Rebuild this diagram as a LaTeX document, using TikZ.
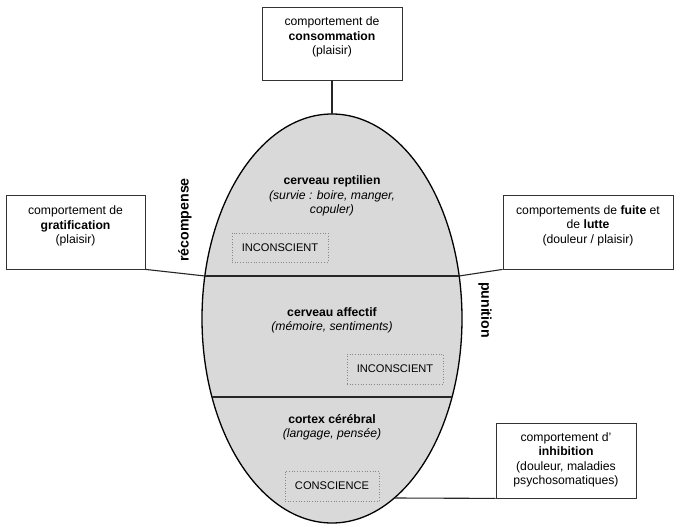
\documentclass[tikz,border=0pt]{standalone}
\usepackage{fontspec}
\setmainfont{Liberation Sans}
\definecolor{brainfill}{HTML}{D9D9D9}
\definecolor{boxline}{HTML}{333333}
\definecolor{dotline}{HTML}{888888}
\begin{document}
\begin{tikzpicture}[x=1pt,y=-1pt,
  txt/.style={font=\fontsize{12.2}{14.5}\selectfont, align=center, inner sep=0pt},
  outbox/.style={draw=boxline, line width=0.8pt, fill=white, inner sep=0pt},
  dotbox/.style={draw=dotline, dotted, line width=0.7pt, inner sep=0pt, font=\fontsize{11.1}{13}\selectfont},
  side/.style={font=\fontsize{14.2}{16}\selectfont\bfseries, inner sep=0pt},
  conn/.style={line width=1.1pt, black!85},
  divide/.style={line width=1.2pt, black!85}]
\useasboundingbox (0,0) rectangle (683,530);
% brain ellipse
\draw[fill=brainfill, line width=1.3pt] (332,318.5) ellipse [x radius=130pt, y radius=204.5pt];
% points on the ellipse
\coordinate (eTop) at (332,114);
\coordinate (dAl) at (205,276);
\coordinate (dAr) at (459,276);
\coordinate (dBl) at (212,397);
\coordinate (dBr) at (452,397);
\coordinate (eInh) at (395,498);
% dividers
\draw[divide] (dAl) -- (dAr);
\draw[divide] (dBl) -- (dBr);
% outer boxes
\node[outbox, minimum width=140pt, minimum height=73pt] (cons) at (332,43.5) {};
\node[outbox, minimum width=139pt, minimum height=74pt] (grat) at (75.5,232) {};
\node[outbox, minimum width=170pt, minimum height=74pt] (fuite) at (588,232) {};
\node[outbox, minimum width=140pt, minimum height=75pt] (inhib) at (566,460.5) {};
\node[txt] (consT) at (332,37) {comportement de\\\textbf{consommation}\\(plaisir)};
\node[txt] (gratT) at (75.5,226) {comportement de\\\textbf{gratification}\\(plaisir)};
\node[txt] (fuiteT) at (588,225.5) {comportements de \textbf{fuite} et\\de \textbf{lutte}\\(douleur / plaisir)};
\node[txt] (inhibT) at (566,460) {comportement d'\\\textbf{inhibition}\\(douleur, maladies\\psychosomatiques)};
% connectors
\draw[conn] (cons.south) -- (eTop);
\draw[conn] (grat.south east) -- (dAl);
\draw[conn] (fuite.south west) -- (dAr);
\draw[conn] (inhib.south west) -- (eInh);
% inner texts
\node[txt] (rept) at (332,196) {\textbf{cerveau reptilien}\\\textit{(survie : boire, manger,}\\\textit{copuler)}};
\node[txt] (affec) at (332,320.5) {\textbf{cerveau affectif}\\\textit{(mémoire, sentiments)}};
\node[txt] (cort) at (332,427.5) {\textbf{cortex cérébral}\\\textit{(langage, pensée)}};
\node[dotbox, minimum width=96pt, minimum height=29pt] (inc1) at (280,247.5) {INCONSCIENT};
\node[dotbox, minimum width=96pt, minimum height=30pt] (inc2) at (395,369) {INCONSCIENT};
\node[dotbox, minimum width=94pt, minimum height=30pt] (consc) at (332,486) {CONSCIENCE};
% side labels
\node[side, rotate=90] (recomp) at (185,220) {récompense};
\node[side, rotate=-90] (punit) at (485,310) {punition};
\end{tikzpicture}
\end{document}
